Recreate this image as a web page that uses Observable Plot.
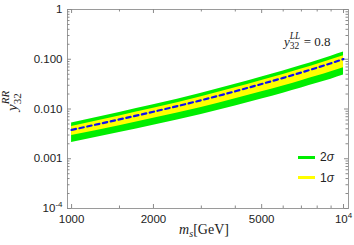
<!DOCTYPE html>
<html>
<head>
<meta charset="utf-8">
<script src="https://cdn.jsdelivr.net/npm/d3@7"></script>
<script src="https://cdn.jsdelivr.net/npm/@observablehq/plot@0.6"></script>
<style>
  html, body { margin: 0; padding: 0; background: #fff; }
  #wrap { position: relative; width: 354px; height: 245px; }
  .leg { position: absolute; font-family: "Liberation Sans", Arial, sans-serif; font-size: 12px; color: #222; display: flex; align-items: center; }
  .sw { width: 17px; height: 3px; margin-right: 5px; }
</style>
</head>
<body>
<div id="wrap"></div>
<script>
// ---- data ----
const mass      = [1000, 1500, 2000, 3000, 4000, 5000, 6000, 7000, 8000, 9000, 10000];
const green2Lo  = [0.00213, 0.00336, 0.00471, 0.00779, 0.01152, 0.0159, 0.0208, 0.0264, 0.0328, 0.0398, 0.0481];
const yellow1Lo = [0.00292, 0.00461, 0.00648, 0.01074, 0.0160, 0.0221, 0.0289, 0.0369, 0.0458, 0.0558, 0.0673];
const central   = [0.00380, 0.00618, 0.00881, 0.01503, 0.0227, 0.0318, 0.0422, 0.0542, 0.0678, 0.0832, 0.101];
const yellow1Hi = [0.00445, 0.00723, 0.01031, 0.01759, 0.0266, 0.0372, 0.0494, 0.0634, 0.0793, 0.0973, 0.118];
const green2Hi  = [0.00524, 0.00853, 0.01216, 0.02074, 0.0313, 0.0439, 0.0582, 0.0748, 0.0936, 0.1148, 0.1394];

const xMajor = [1000, 2000, 5000, 10000];
const xMajorLabels = ["1000", "2000", "5000", "10⁴"];
const xMinor = [1500, 3000, 4000, 6000, 7000, 8000, 9000];
const yMajor = [1e-4, 1e-3, 1e-2, 1e-1, 1];
const yMajorLabels = ["10⁻⁴", "0.001", "0.010", "0.100", "1"];
const yMinor = [2e-4,3e-4,4e-4,5e-4,6e-4,7e-4,8e-4,9e-4,
                2e-3,3e-3,4e-3,5e-3,6e-3,7e-3,8e-3,9e-3,
                2e-2,3e-2,4e-2,5e-2,6e-2,7e-2,8e-2,9e-2,
                0.2,0.3,0.4,0.5,0.6,0.7,0.8,0.9];
const legendLabels = ["2σ", "1σ"];
const legendColors = ["#00ee00", "#ffff00"];

const rows = mass.map((m, i) => ({m, glo: green2Lo[i], ylo: yellow1Lo[i], c: central[i], yhi: yellow1Hi[i], ghi: green2Hi[i]}));

const W = 354, H = 245, mL = 67, mR = 6, mT = 9, mB = 37;
const innerW = W - mL - mR, innerH = H - mT - mB;
const tickCol = "#8a8a8a";

const svg = Plot.plot({
  width: W, height: H,
  marginLeft: mL, marginRight: mR, marginTop: mT, marginBottom: mB,
  style: {fontFamily: "'Liberation Sans', Arial, sans-serif", fontSize: "11.5px", color: "#222", background: "#fff"},
  x: {type: "log", domain: [966, 10430]},
  y: {type: "log", domain: [1e-4, 1]},
  marks: [
    Plot.areaY(rows, {x: "m", y1: "glo", y2: "ghi", fill: legendColors[0], curve: "monotone-x"}),
    Plot.areaY(rows, {x: "m", y1: "ylo", y2: "yhi", fill: legendColors[1], curve: "monotone-x"}),
    Plot.line(rows, {x: "m", y: "c", stroke: "#1010f0", strokeWidth: 2.2, strokeDasharray: "4.5,3.5", curve: "monotone-x"}),
    Plot.frame({stroke: "#9a9a9a"}),
    // inward ticks
    Plot.tickX(xMajor, {insetTop: innerH - 4, stroke: tickCol}),
    Plot.tickX(xMajor, {insetBottom: innerH - 4, stroke: tickCol}),
    Plot.tickX(xMinor, {insetTop: innerH - 2.5, stroke: tickCol}),
    Plot.tickX(xMinor, {insetBottom: innerH - 2.5, stroke: tickCol}),
    Plot.tickY(yMajor, {insetRight: innerW - 4, stroke: tickCol}),
    Plot.tickY(yMajor, {insetLeft: innerW - 4, stroke: tickCol}),
    Plot.tickY(yMinor, {insetRight: innerW - 2.5, stroke: tickCol}),
    Plot.tickY(yMinor, {insetLeft: innerW - 2.5, stroke: tickCol}),
    // tick labels
    Plot.axisX({ticks: xMajor, tickFormat: d => xMajorLabels[xMajor.indexOf(d)], tickSize: 0, tickPadding: 6, label: null, fontSize: 11.5}),
    Plot.axisY({ticks: yMajor, tickFormat: d => yMajorLabels[yMajor.indexOf(d)], tickSize: 0, tickPadding: 5, label: null, fontSize: 11.5}),
    // axis titles & annotation (rich text filled in below)
    Plot.text(["YLABEL"], {frameAnchor: "left", dx: -55, dy: 2, rotate: -90, fontFamily: "'Liberation Serif', serif", fontSize: 15}),
    Plot.text(["XLABEL"], {frameAnchor: "bottom", dx: -4, dy: 25, fontFamily: "'Liberation Serif', serif", fontSize: 14}),
    Plot.text(["ANNOT"], {frameAnchor: "top-right", dx: -18, dy: 27, fontFamily: "'Liberation Serif', serif", fontSize: 13})
  ]
});

function rich(el, parts) {
  el.textContent = "";
  for (const p of parts) {
    const ts = document.createElementNS("http://www.w3.org/2000/svg", "tspan");
    ts.textContent = p.t;
    if (p.italic) ts.setAttribute("font-style", "italic");
    if (p.size) ts.setAttribute("font-size", p.size);
    if (p.dx != null) ts.setAttribute("dx", p.dx);
    if (p.dy != null) ts.setAttribute("dy", p.dy);
    if (p.family) ts.setAttribute("font-family", p.family);
    el.appendChild(ts);
  }
}
d3.select(svg).selectAll("text").each(function() {
  const t = this.textContent;
  if (t === "YLABEL") rich(this, [
    {t: "y", italic: true},
    {t: "32", size: "11px", dy: 4},
    {t: "RR", size: "11px", italic: true, dx: -11, dy: -12}
  ]);
  else if (t === "XLABEL") rich(this, [
    {t: "m", italic: true},
    {t: "s", italic: true, size: "10px", dy: 3},
    {t: "[GeV]", dy: -3}
  ]);
  else if (t === "ANNOT") rich(this, [
    {t: "y", italic: true},
    {t: "32", size: "9.5px", dy: 3.5},
    {t: "LL", size: "9.5px", italic: true, dx: -9.5, dy: -10.5},
    {t: " = 0.8", dy: 7}
  ]);
  else if (t === "10⁴") rich(this, [{t: "10"}, {t: "4", size: "8px", dy: -5}]);
  else if (t === "10⁻⁴") rich(this, [{t: "10"}, {t: "-4", size: "8px", dy: -5}]);
});

const wrap = document.getElementById("wrap");
wrap.appendChild(svg);
legendLabels.forEach((lab, i) => {
  const d = document.createElement("div");
  d.className = "leg";
  d.style.left = "298px";
  d.style.top = (150 + i * 20.5) + "px";
  const sw = document.createElement("div");
  sw.className = "sw";
  sw.style.background = legendColors[i];
  d.appendChild(sw);
  const s = document.createElement("span");
  s.innerHTML = lab.slice(0, 1) + "<i>" + lab.slice(1) + "</i>";
  d.appendChild(s);
  wrap.appendChild(d);
});
</script>
</body>
</html>
